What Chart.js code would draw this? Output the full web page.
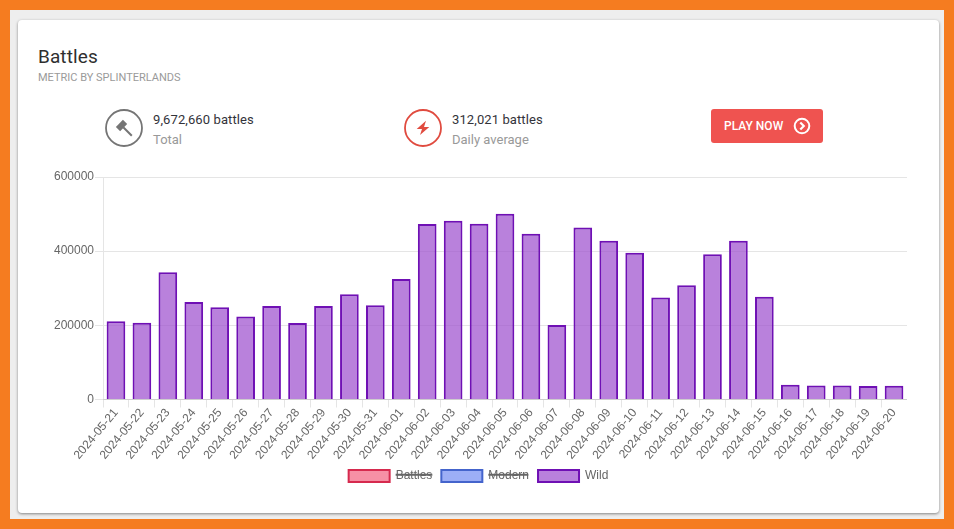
<!DOCTYPE html>
<html>
<head>
<meta charset="utf-8">
<script src="https://cdn.jsdelivr.net/npm/chart.js@4"></script>
<style>
   html, body { margin: 0; padding: 0; }
   body { width: 954px; height: 529px; background: #f57c20; overflow: hidden; font-family: Roboto, sans-serif; position: relative; }
   .page { position: absolute; left: 10px; top: 10px; width: 934px; height: 509px; background: #eeeeee; }
   .card { position: absolute; left: 18px; top: 20px; width: 921px; height: 493px; background: #fff; border-radius: 4px; box-shadow: 0 1px 3px rgba(0,0,0,.45); }
   .abs { position: absolute; white-space: nowrap; }
   h1 { margin: 0; font-size: 19px; font-weight: 400; color: #2f2f2f; left: 38px; top: 46px; line-height: 21px; letter-spacing: .1px; }
   .sub { font-size: 11px; color: #9a9a9a; left: 38px; top: 72px; line-height: 12px; }
   .val { font-size: 13px; font-weight: 400; color: #33333a; line-height: 16px; letter-spacing: .1px; }
   .lbl { font-size: 13px; color: #999; line-height: 16px; }
   .btn { left: 711px; top: 109px; width: 112px; height: 34px; background: #ef5350; border-radius: 3px; color: #fff; font-size: 12px; font-weight: 500; line-height: 34px; }
   .btn span { position: absolute; left: 13px; }
   svg { position: absolute; }
   #wrap { position: absolute; left: 50px; top: 167px; width: 857px; height: 325px; }
</style>
</head>
<body>
<div class="page"></div>
<div class="card"></div>
<h1 class="abs">Battles</h1>
<div class="abs sub">METRIC BY SPLINTERLANDS</div>

<svg style="left:104px;top:108px" width="40" height="40" viewBox="0 0 40 40">
   <circle cx="20" cy="20" r="18" fill="none" stroke="#757575" stroke-width="1.8"/>
   <g fill="#757575" transform="rotate(45 20 20)">
      <rect x="13.5" y="15" width="6" height="10"/>
      <rect x="19" y="19" width="12" height="2"/>
   </g>
</svg>
<div class="abs val" style="left:153px;top:112px">9,672,660 battles</div>
<div class="abs lbl" style="left:153px;top:132px">Total</div>

<svg style="left:403px;top:108px" width="40" height="40" viewBox="0 0 40 40">
   <circle cx="20" cy="20" r="18" fill="none" stroke="#e04b3f" stroke-width="1.8"/>
   <path d="M23 12.7 L13.7 21 H19 L17 27 L26.3 19 H21 Z" fill="#e04b3f"/>
</svg>
<div class="abs val" style="left:452px;top:112px">312,021 battles</div>
<div class="abs lbl" style="left:452px;top:132px">Daily average</div>

<div class="abs btn"><span>PLAY NOW</span>
   <svg style="left:82px;top:8px" width="18" height="18" viewBox="0 0 18 18">
      <circle cx="9" cy="9" r="7.3" fill="none" stroke="#fff" stroke-width="2"/>
      <path d="M7.3 5.4 L10.8 9 L7.3 12.6" fill="none" stroke="#fff" stroke-width="2.2"/>
   </svg>
</div>

<div id="wrap"><canvas id="chart" width="857" height="325"></canvas></div>

<script>
// Donnees
const categories = ['2024-05-21','2024-05-22','2024-05-23','2024-05-24','2024-05-25','2024-05-26','2024-05-27','2024-05-28','2024-05-29','2024-05-30','2024-05-31','2024-06-01','2024-06-02','2024-06-03','2024-06-04','2024-06-05','2024-06-06','2024-06-07','2024-06-08','2024-06-09','2024-06-10','2024-06-11','2024-06-12','2024-06-13','2024-06-14','2024-06-15','2024-06-16','2024-06-17','2024-06-18','2024-06-19','2024-06-20'];
const wildValues = [211000,207000,343000,263000,249000,224000,252000,206000,252000,284000,254000,325000,473000,482000,474000,501000,447000,201000,464000,428000,396000,275000,308000,392000,428000,277000,39500,38000,38000,36500,37000];
// Series masquees dans la legende : aucune valeur visible
const battlesValues = [];
const modernValues = [];

Chart.defaults.font.family = '"Liberation Sans", Arial, sans-serif';
Chart.defaults.font.size = 12;
Chart.defaults.color = '#666';

const myChart = new Chart(document.getElementById('chart'), {
   type: 'bar',
   data: {
      labels: categories,
      datasets: [
         { label: 'Battles', data: battlesValues, hidden: true, backgroundColor: 'rgba(240,70,105,.6)', borderColor: '#d62a4e', borderWidth: 2 },
         { label: 'Modern', data: modernValues, hidden: true, backgroundColor: 'rgba(90,120,240,.6)', borderColor: '#4464cc', borderWidth: 2 },
         { label: 'Wild', data: wildValues, backgroundColor: 'rgba(155,75,205,.7)', borderColor: '#6f10b4', borderWidth: 2 }
      ]
   },
   options: {
      responsive: false,
      animation: false,
      layout: { padding: { left: 0, right: 0, top: 10, bottom: 0 } },
      scales: {
         x: {
            ticks: { autoSkip: false, color: '#666', padding: -1.5, minRotation: 50, maxRotation: 50 },
            grid: { drawOnChartArea: false, color: 'rgba(0,0,0,.1)' },
            // Hauteur de l'axe fixee pour caler le bas du graphique
            afterFit: scale => {
               scale.height = 61.5;
               scale.paddingLeft = 0;
               scale.paddingRight = 0;
            }
         },
         y: {
            min: 0,
            max: 600000,
            ticks: { stepSize: 200000, color: '#666', padding: 1, callback: v => String(v) },
            grid: { color: 'rgba(0,0,0,.1)' },
            afterFit: scale => { scale.width = 53; }
         }
      },
      plugins: {
         legend: { position: 'bottom', labels: { boxWidth: 41, boxHeight: 12, padding: 9, color: '#666' } },
         tooltip: { enabled: false }
      }
   }
});
</script>
</body>
</html>
